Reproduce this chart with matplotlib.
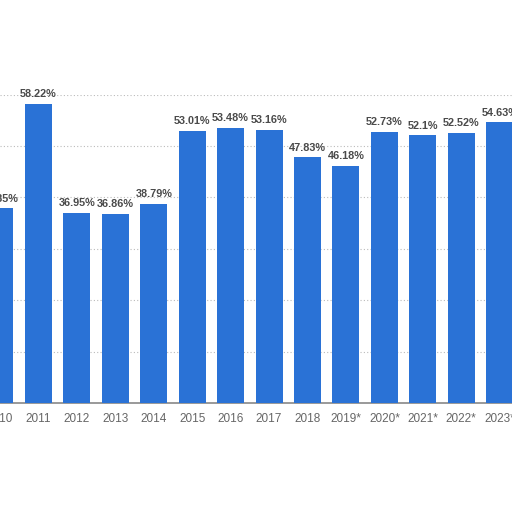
import matplotlib
matplotlib.use('Agg')
import matplotlib.pyplot as plt
import numpy as np

years = ['2010', '2011', '2012', '2013', '2014', '2015', '2016', '2017', '2018',
         '2019*', '2020*', '2021*', '2022*', '2023*']
values = [37.85, 58.22, 36.95, 36.86, 38.79, 53.01, 53.48, 53.16, 47.83,
          46.18, 52.73, 52.1, 52.52, 54.63]
value_labels = ['37.85%', '58.22%', '36.95%', '36.86%', '38.79%', '53.01%', '53.48%',
                '53.16%', '47.83%', '46.18%', '52.73%', '52.1%', '52.52%', '54.63%']

BAR = '#2a72d6'

plt.rcParams['font.family'] = ['Liberation Sans', 'DejaVu Sans']

fig = plt.figure(figsize=(5.12, 5.12), dpi=100)
ax = fig.add_axes([0, 109 / 512, 1, 308.4 / 512])

x = np.arange(len(years))
ax.bar(x, values, width=0.7, color=BAR, zorder=3)
for xi, v, lab in zip(x, values, value_labels):
    ax.text(xi, v + 0.9, lab, ha='center', va='bottom', fontsize=7.8,
            fontweight='bold', color='#4a4a4a', clip_on=False)

ax.set_xlim(0.04, 13.32)
ax.set_ylim(0, 60)
ax.set_xticks(x)
ax.set_xticklabels(years, fontsize=8.5, color='#666666')
ax.tick_params(axis='x', length=0, pad=7)
ax.set_yticks([10, 20, 30, 40, 50, 60])
ax.set_yticklabels([])
ax.tick_params(axis='y', length=0)
ax.yaxis.grid(True, linestyle=(0, (1, 2)), color='#bbbbbb', lw=0.8, zorder=0)
for s in ['top', 'left', 'right']:
    ax.spines[s].set_visible(False)
ax.spines['bottom'].set_color('#888888')
ax.spines['bottom'].set_linewidth(1.2)

fig.savefig('out.png', dpi=100)
plt.close()
